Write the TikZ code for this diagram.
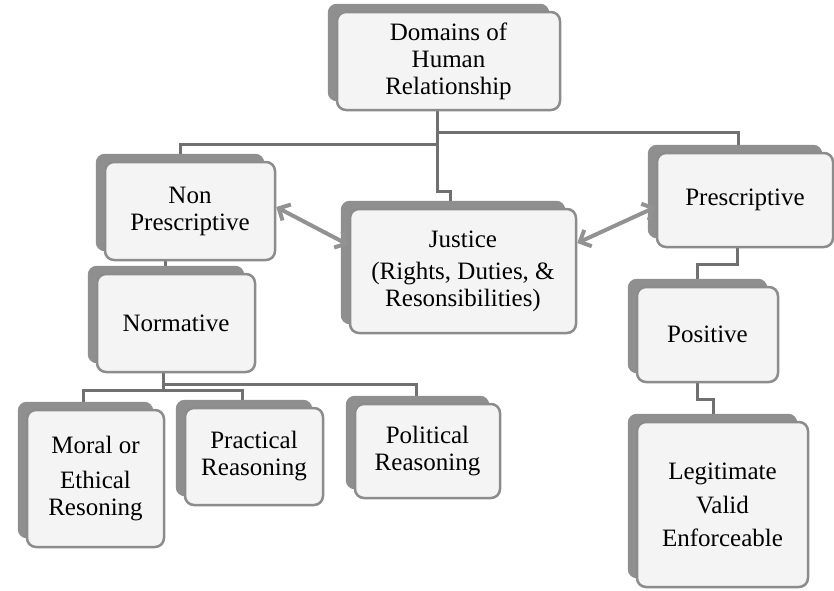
\documentclass[tikz,border=0pt]{standalone}
\usepackage{fontspec}
\setmainfont{Liberation Serif}
\usetikzlibrary{arrows.meta,backgrounds}
\definecolor{boxfill}{HTML}{F4F4F4}
\definecolor{edgegray}{HTML}{8C8C8C}
\definecolor{shadowgray}{HTML}{8F8F8F}
\definecolor{linkgray}{HTML}{707070}
\definecolor{arrowgray}{HTML}{929292}
\tikzset{
  box/.style={rounded corners=9pt, fill=boxfill, draw=edgegray, line width=2.5pt,
    align=center, inner sep=0pt, font=\fontsize{25}{27}\selectfont},
  link/.style={draw=linkgray, line width=3pt},
  twoway/.style={draw=arrowgray, line width=4pt,
    {Straight Barb[length=9pt,width=18pt]}-{Straight Barb[length=9pt,width=18pt]}}
}
\begin{document}
\begin{tikzpicture}[x=1pt,y=-1pt]
  \useasboundingbox (0,0) rectangle (834,590);
  \node[box, minimum width=223pt, minimum height=98pt] (dom) at (448.5,61) {Domains of\\Human\\Relationship};
  \node[box, minimum width=170pt, minimum height=98pt] (non) at (190,211) {Non\\Prescriptive};
  \node[box, minimum width=226pt, minimum height=124pt] (jus) at (463,271) {Justice\\[5pt](Rights, Duties, \&\\Resonsibilities)};
  \node[box, minimum width=176pt, minimum height=94pt] (pre) at (745,200) {Prescriptive};
  \node[box, minimum width=158pt, minimum height=98pt] (nor) at (176,323) {Normative};
  \node[box, minimum width=141pt, minimum height=95pt] (pos) at (707.5,334.5) {Positive};
  \node[box, minimum width=137pt, minimum height=137pt] (mor) at (95.5,478.5) {Moral or\\[8pt]Ethical\\Resoning};
  \node[box, minimum width=138pt, minimum height=97pt] (pra) at (254,456.5) {Practical\\Reasoning};
  \node[box, minimum width=145pt, minimum height=94pt] (pol) at (427.5,451) {Political\\Reasoning};
  \node[box, minimum width=171pt, minimum height=165pt] (leg) at (722.5,504.5) {Legitimate\\[7pt]Valid\\[6pt]Enforceable};
  \begin{scope}[on background layer]
    \draw[link] ([xshift=-11.5pt]dom.south) -- ++(0,33) -| ([xshift=-10pt]non.north);
    \draw[link] ([xshift=-11.5pt]dom.south) -- ++(0,21) -| ([xshift=-7pt]pre.north);
    \draw[link] ([xshift=-11.5pt]dom.south) -- ++(0,80) -| ([xshift=-13pt]jus.north);
    \draw[link] ([xshift=-25pt]non.south) -- ([xshift=-11pt]nor.north);
    \draw[link] ([xshift=-13pt]nor.south) -- ++(0,11) -| ([xshift=-11.5pt]pol.north);
    \draw[link] ([xshift=-13pt]nor.south) -- ++(0,17) -| ([xshift=-12.5pt]mor.north);
    \draw[link] ([xshift=-13pt]nor.south) -- ++(0,17) -| ([xshift=-12pt]pra.north);
    \draw[link] ([xshift=-8pt]pre.south) -- ++(0,16) -| ([xshift=-10.5pt]pos.north);
    \draw[link] ([xshift=-10.5pt]pos.south) -- ++(0,16) -| ([xshift=-9.5pt]leg.north);
    \foreach \n in {dom,non,jus,pre,nor,pos,mor,pra,pol,leg}
      \fill[shadowgray, rounded corners=9pt] ([shift={(-8,-7)}]\n.north west) rectangle ([shift={(-12,-10)}]\n.south east);
  \end{scope}
  \draw[twoway] ([yshift=4pt]non.east) -- ([yshift=26pt]jus.west);
  \draw[twoway] ([yshift=-7pt]pre.west) -- ([yshift=28pt]jus.east);
\end{tikzpicture}
\end{document}
